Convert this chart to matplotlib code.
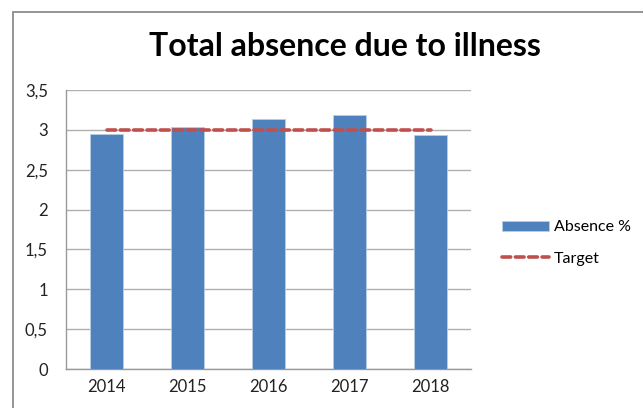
import matplotlib
matplotlib.use('Agg')
import matplotlib.pyplot as plt
from matplotlib.patches import Rectangle
from matplotlib.ticker import FuncFormatter

# data
years = ['2014', '2015', '2016', '2017', '2018']
absence = [2.95, 3.03, 3.13, 3.19, 2.93]
target = [3, 3, 3, 3, 3]
y_ticks = [0, 0.5, 1, 1.5, 2, 2.5, 3, 3.5]

plt.rcParams['font.family'] = ['Lato', 'DejaVu Sans']

fig = plt.figure(figsize=(6.43, 4.08), dpi=100)
W, H = 643, 408

# outer chart border (runs off the right and bottom edge)
fig.patches.append(Rectangle((13 / W, -0.05), 1.0, 1 - 12 / H + 0.05,
                             transform=fig.transFigure, fill=False,
                             edgecolor='#8c8c8c', linewidth=1.3))

ax = fig.add_axes([66 / W, (H - 369) / H, (471 - 66) / W, (369 - 90) / H])

x = list(range(len(years)))
bars = ax.bar(x, absence, width=0.4, color='#4F81BD', edgecolor='#b9cde5',
              linewidth=0.6, label='Absence %', zorder=3)
line, = ax.plot(x, target, color='#C0504D', linestyle=(0, (2.4, 1.3)), linewidth=2.6,
                dash_capstyle='round', label='Target', zorder=4)

ax.set_xlim(-0.5, 4.5)
ax.set_ylim(0, 3.5)
ax.set_yticks(y_ticks)
ax.yaxis.set_major_formatter(FuncFormatter(lambda v, p: ('%g' % v).replace('.', ',')))
ax.set_xticks(x)
ax.set_xticklabels(years)
ax.tick_params(length=0, labelsize=12, colors='#222222', pad=7)
ax.tick_params(axis='y', pad=13)
ax.grid(axis='y', color='#b0b0b0', linewidth=1.0, zorder=0)
for s in ['top', 'right']:
    ax.spines[s].set_visible(False)
for s in ['left', 'bottom']:
    ax.spines[s].set_color('#999999')
    ax.spines[s].set_linewidth(1.0)

fig.text(345 / W, 1 - 47 / H, 'Total absence due to illness', ha='center',
         va='center', fontsize=23, fontweight='bold', color='black')

ax.legend([bars, line], ['Absence %', 'Target'], loc='center left',
          bbox_to_anchor=(496 / W, 1 - 243 / H),
          bbox_transform=fig.transFigure, frameon=False, fontsize=11.5,
          handlelength=2.9, handleheight=0.6, handletextpad=0.3,
          labelspacing=1.1, borderpad=0.4, borderaxespad=0)

fig.savefig('out.png', dpi=100)
